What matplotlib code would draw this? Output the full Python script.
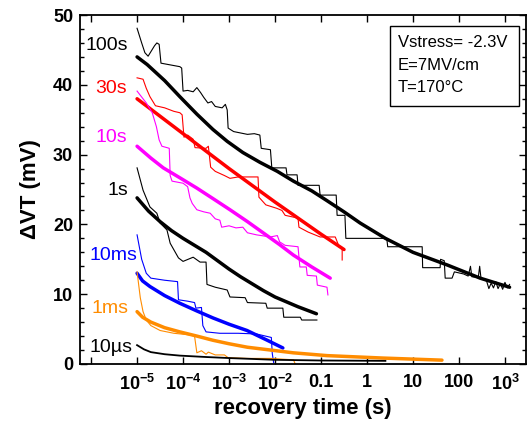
import numpy as np
import matplotlib
matplotlib.use('Agg')
import matplotlib.pyplot as plt
from matplotlib.patches import Rectangle

plt.rcParams['font.family'] = ['Liberation Sans', 'DejaVu Sans']
plt.rcParams['mathtext.fontset'] = 'custom'
plt.rcParams['mathtext.rm'] = 'Liberation Sans'
plt.rcParams['mathtext.bf'] = 'Liberation Sans:bold'

# data: log10 of recovery time (s) and dVT (mV)
# thin lines = measured, thick lines = fits
raw_100s_logt = [-5.0, -4.9, -4.83, -4.76, -4.62, -4.57, -4.52, -4.48, -4.07, -4.03, -4.0, -3.9, -3.78, -3.7,
                 -3.62, -3.55, -3.46, -3.38, -3.3, -3.15, -3.08, -3.04, -3.02, -2.9, -2.75, -2.6, -2.45, -2.33,
                 -2.3, -2.1, -2.07, -1.76, -1.74, -1.52, -1.5, -1.04, -1.02, -0.67, -0.65, -0.48, -0.46, 0.43,
                 0.45, 1.2, 1.21, 1.59, 1.6, 1.68, 1.7, 1.85, 1.9, 2.1, 2.2, 2.25, 2.28, 2.42, 2.45, 2.48, 2.6,
                 2.65, 2.7, 2.75, 2.8, 2.85, 2.9, 2.95, 3.0, 3.05, 3.1]
raw_100s_dvt = [48.1, 46.0, 44.6, 44.1, 45.6, 46.0, 45.8, 43.1, 42.6, 42.4, 39.1, 39.2, 39.0, 39.6,
                38.9, 38.2, 37.4, 37.6, 36.9, 36.7, 37.2, 36.4, 33.8, 33.3, 33.1, 32.9, 33.0, 32.8,
                30.9, 30.7, 28.1, 28.1, 27.1, 27.1, 25.6, 25.6, 24.2, 24.2, 21.3, 21.3, 18.0, 18.0,
                16.8, 16.8, 13.8, 13.8, 15.0, 14.8, 12.3, 12.3, 13.2, 12.9, 12.6, 14.0, 12.5, 12.4, 14.0, 12.2, 11.9,
                10.8, 11.6, 10.9, 11.8, 10.8, 11.5, 10.7, 11.7, 10.9, 11.4]
fit_100s_logt = [-5.0, -4.78, -4.4, -4.07, -3.7, -3.35, -3.04, -2.7, -2.33, -1.95, -1.6, -1.2, -0.87, -0.5,
                 -0.15, 0.4, 1.0, 1.74, 2.46, 3.1]
fit_100s_dvt = [44.0, 42.9, 40.6, 38.3, 35.8, 33.6, 31.9, 30.3, 28.9, 27.6, 26.2, 24.8, 23.4, 21.8,
                20.2, 18.0, 16.0, 14.2, 12.3, 11.0]

raw_30s_logt = [-5.0, -4.87, -4.8, -4.72, -4.6, -4.4, -4.2, -4.07, -4.02, -3.98, -3.9, -3.78, -3.74, -3.5,
                -3.45, -3.4, -3.3, -3.1, -2.98, -2.8, -2.55, -2.37, -2.35, -2.2, -1.96, -1.85, -1.78, -1.5,
                -1.48, -1.28, -1.02, -0.69, -0.6, -0.54, -0.54]
raw_30s_dvt = [41.0, 40.8, 39.5, 38.3, 37.0, 36.7, 36.2, 36.0, 35.7, 32.5, 32.8, 32.2, 31.0, 30.9,
               31.2, 28.2, 27.6, 27.0, 26.6, 26.8, 26.8, 26.8, 23.9, 22.8, 22.3, 22.0, 21.3, 20.9,
               19.6, 18.9, 18.2, 18.2, 16.7, 16.7, 14.9]
fit_30s_logt = [-5.0, -4.5, -4.0, -3.5, -3.0, -2.5, -2.0, -1.5, -1.0, -0.5]
fit_30s_dvt = [38.0, 35.5, 33.0, 30.5, 28.0, 25.6, 23.2, 20.9, 18.6, 16.4]

raw_10s_logt = [-5.0, -4.8, -4.67, -4.58, -4.52, -4.46, -4.35, -4.3, -4.28, -4.24, -4.0, -3.9, -3.85, -3.8,
                -3.7, -3.55, -3.41, -3.3, -3.2, -3.16, -3.0, -2.85, -2.7, -2.6, -2.4, -2.1, -1.95, -1.9,
                -1.78, -1.5, -1.46, -1.32, -1.3, -1.1, -1.08, -0.87, -0.85]
raw_10s_dvt = [39.1, 37.4, 36.0, 34.0, 32.1, 31.2, 31.0, 30.9, 27.0, 26.2, 25.9, 25.4, 23.8, 23.0,
               22.1, 21.8, 21.6, 20.8, 20.6, 19.6, 19.8, 19.5, 19.6, 18.8, 18.5, 18.2, 18.4, 17.5,
               17.0, 16.8, 13.9, 13.9, 12.7, 12.6, 11.3, 11.0, 9.9]
fit_10s_logt = [-5.0, -4.7, -4.43, -4.05, -3.7, -3.35, -2.98, -2.6, -2.26, -1.9, -1.6, -1.2, -0.8]
fit_10s_dvt = [31.2, 29.5, 28.1, 26.6, 25.2, 23.7, 22.1, 20.4, 18.8, 17.1, 15.6, 13.9, 12.3]

raw_1s_logt = [-5.0, -4.87, -4.72, -4.57, -4.5, -4.35, -4.28, -4.1, -4.0, -3.78, -3.63, -3.5, -3.48, -3.3,
               -3.04, -2.98, -2.65, -2.6, -2.2, -2.17, -1.83, -1.81, -1.45, -1.42, -1.09]
raw_1s_dvt = [28.1, 24.9, 22.5, 21.6, 20.2, 19.2, 17.3, 15.2, 14.7, 15.3, 14.6, 14.6, 11.4, 11.0,
              10.6, 9.6, 9.5, 8.8, 8.7, 8.0, 8.0, 6.7, 6.7, 6.3, 6.3]
fit_1s_logt = [-5.0, -4.75, -4.5, -4.25, -4.0, -3.75, -3.5, -3.25, -3.0, -2.75, -2.5, -2.25, -2.0, -1.75, -1.5, -1.1]
fit_1s_dvt = [23.8, 21.9, 20.4, 19.1, 18.0, 17.0, 16.0, 14.8, 13.6, 12.5, 11.5, 10.5, 9.6, 8.9, 8.2, 7.2]

raw_10ms_logt = [-5.0, -4.9, -4.8, -4.7, -4.4, -4.12, -4.1, -3.9, -3.75, -3.72, -3.6, -3.57, -3.5, -3.2,
                 -2.8, -2.4, -2.08, -2.06, -2.03]
raw_10ms_dvt = [18.5, 15.0, 13.0, 12.3, 12.0, 11.8, 9.2, 9.0, 8.8, 8.0, 8.1, 5.5, 4.6, 4.4,
                4.4, 4.3, 3.8, 1.5, 0.2]
fit_10ms_logt = [-5.0, -4.88, -4.72, -4.4, -4.07, -3.7, -3.35, -3.0, -2.61, -2.2, -1.83]
fit_10ms_dvt = [13.0, 11.9, 11.1, 9.8, 8.7, 7.6, 6.6, 5.7, 4.8, 3.5, 2.3]

raw_1ms_logt = [-5.0, -4.93, -4.87, -4.8, -4.7, -4.5, -4.2, -3.9, -3.75, -3.7, -3.6, -3.5, -3.45, -3.3,
                -3.1, -3.02, -2.6, -2.1, -1.6, -1.56]
raw_1ms_dvt = [13.2, 9.5, 7.5, 6.3, 5.5, 4.8, 4.4, 4.2, 4.0, 1.6, 1.9, 1.4, 1.7, 1.3,
               1.3, 0.9, 0.8, 0.8, 0.6, 0.0]
fit_1ms_logt = [-5.0, -4.88, -4.7, -4.4, -4.07, -3.7, -3.35, -3.0, -2.6, -2.1, -1.6, -0.87, 0.35, 1.63]
fit_1ms_dvt = [7.5, 6.7, 6.0, 5.2, 4.6, 4.0, 3.4, 2.9, 2.4, 2.0, 1.6, 1.2, 0.85, 0.55]

fit_10us_logt = [-5.0, -4.85, -4.7, -4.4, -4.07, -3.5, -3.0, -2.0, -1.0, 0.4]
fit_10us_dvt = [2.7, 2.1, 1.7, 1.4, 1.2, 1.0, 0.85, 0.6, 0.5, 0.45]

xtick_exp = [-6, -5, -4, -3, -2, -1, 0, 1, 2, 3]
xtick_labels = ['', r'$\mathbf{10^{-5}}$', r'$\mathbf{10^{-4}}$', r'$\mathbf{10^{-3}}$', r'$\mathbf{10^{-2}}$',
                '0.1', '1', '10', '100', r'$\mathbf{10^{3}}$']

fig = plt.figure(figsize=(5.27, 4.23), dpi=100)
ax = fig.add_axes([0.152, 0.1395, 0.846, 0.825])

orange = '#ff8c00'
series = [
    (raw_100s_logt, raw_100s_dvt, fit_100s_logt, fit_100s_dvt, 'black'),
    (raw_30s_logt, raw_30s_dvt, fit_30s_logt, fit_30s_dvt, 'red'),
    (raw_10s_logt, raw_10s_dvt, fit_10s_logt, fit_10s_dvt, '#ff00ff'),
    (raw_1s_logt, raw_1s_dvt, fit_1s_logt, fit_1s_dvt, 'black'),
    (raw_10ms_logt, raw_10ms_dvt, fit_10ms_logt, fit_10ms_dvt, '#0000ff'),
    (raw_1ms_logt, raw_1ms_dvt, fit_1ms_logt, fit_1ms_dvt, orange),
]
for rx, ry, fx, fy, c in series:
    ax.plot(10.0 ** np.array(rx), ry, color=c, lw=0.8)
    ax.plot(10.0 ** np.array(fx), fy, color=c, lw=2.5, solid_capstyle='round')
ax.plot(10.0 ** np.array(fit_10us_logt), fit_10us_dvt, color='black', lw=1.3)

ax.set_xscale('log')
ax.set_xlim(5.77e-7, 2860)
ax.set_ylim(0, 50)
ax.set_xticks(10.0 ** np.array(xtick_exp))
ax.set_xticklabels(xtick_labels)
ax.xaxis.set_minor_locator(matplotlib.ticker.NullLocator())
ax.set_yticks([0, 10, 20, 30, 40, 50])
ax.yaxis.set_minor_locator(matplotlib.ticker.MultipleLocator(2))
ax.tick_params(which='both', direction='in', top=True, right=True, width=1)
ax.tick_params(which='major', length=5, labelsize=13)
ax.tick_params(axis='x', which='major', pad=7)
ax.tick_params(axis='y', which='major', pad=5)
ax.tick_params(which='minor', length=3)
for lab in ax.get_xticklabels() + ax.get_yticklabels():
    lab.set_fontweight('bold')
for s in ax.spines.values():
    s.set_linewidth(1.3)

ax.set_xlabel('recovery time (s)', fontsize=16, fontweight='bold', labelpad=3)
ax.set_ylabel('ΔVT (mV)', fontsize=16, fontweight='bold', labelpad=9)

# curve labels
lab_kw = dict(fontsize=14, ha='right', va='center')
ax.text(6.4e-6, 45.7, '100s', color='black', **lab_kw)
ax.text(5.9e-6, 39.5, '30s', color='red', **lab_kw)
ax.text(6.1e-6, 32.5, '10s', color='#ff00ff', **lab_kw)
ax.text(6.4e-6, 24.9, '1s', color='black', **lab_kw)
ax.text(1.0e-5, 15.6, '10ms', color='#0000ff', **lab_kw)
ax.text(6.4e-6, 8.0, '1ms', color=orange, **lab_kw)
ax.text(7.9e-6, 2.4, '10µs', color='black', **lab_kw)

ax.add_patch(Rectangle((0.695, 0.739), 0.289, 0.2295, transform=ax.transAxes,
                       fill=False, edgecolor='black', lw=1))
for yy, txt in zip([0.920, 0.854, 0.791], ['Vstress= -2.3V', 'E=7MV/cm', 'T=170°C']):
    ax.text(0.713, yy, txt, transform=ax.transAxes, fontsize=12, va='center', ha='left')

fig.savefig('out.png', dpi=100)
